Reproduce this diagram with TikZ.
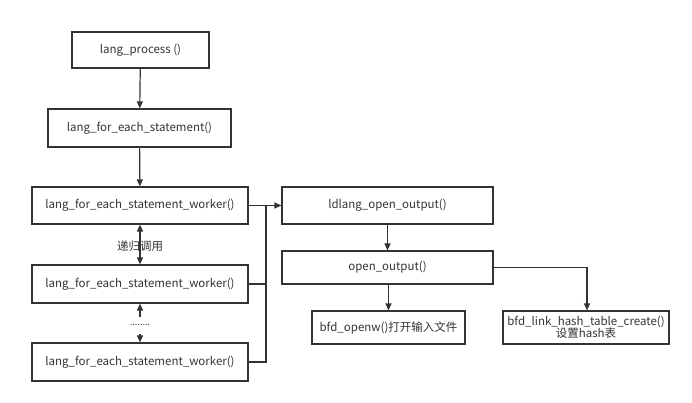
\documentclass[tikz,border=0pt]{standalone}
\usepackage{fontspec}
\setmainfont{Noto Sans CJK SC}
\usetikzlibrary{arrows.meta}
\definecolor{ln}{HTML}{333333}
\definecolor{tx}{HTML}{333333}
\tikzset{
  box/.style={draw=ln, line width=1.2pt, inner sep=0pt, align=center, text=tx, font=\fontsize{11.5}{13}\selectfont},
  conn/.style={draw=ln, line width=1.2pt},
  arr/.style={conn, -{Triangle[length=7pt,width=6pt]}},
}
\begin{document}
\begin{tikzpicture}[x=1pt,y=-1pt]
\useasboundingbox (0,0) rectangle (692,402);
\node[box, minimum width=137pt, minimum height=36pt] (p) at (140.5,50) {lang\_process ()};
\node[box, minimum width=183pt, minimum height=38pt] (s) at (139.5,128) {lang\_for\_each\_statement()};
\node[box, minimum width=216pt, minimum height=37pt] (w1) at (140,205.5) {lang\_for\_each\_statement\_worker()};
\node[box, minimum width=216pt, minimum height=38pt] (w2) at (140,284) {lang\_for\_each\_statement\_worker()};
\node[box, minimum width=216pt, minimum height=38pt] (w3) at (140,362) {lang\_for\_each\_statement\_worker()};
\node[box, minimum width=211pt, minimum height=37pt] (ld) at (387.5,205.5) {ldlang\_open\_output()};
\node[box, minimum width=211pt, minimum height=33pt] (oo) at (387.5,267.5) {open\_output()};
\node[box, minimum width=153pt, minimum height=33pt] (bo) at (388.5,327.5) {bfd\_openw()打开输入文件};
\node[box, minimum width=166pt, minimum height=33pt, font=\fontsize{11.5}{12}\selectfont] (hs) at (586,327.5) {bfd\_link\_hash\_table\_create()\\设置hash表};
\node[text=tx, font=\fontsize{11.5}{13}\selectfont, inner sep=0pt] (rl) at (140,246) {递归调用};
\node[text=tx, font=\fontsize{9}{10}\selectfont, inner sep=0pt] (dots) at (140,325) {........};
\coordinate (d1) at (140,317);
\coordinate (d2) at (140,334);
\coordinate (bt) at (266,205.5);
\coordinate (bb) at (266,362);
\coordinate (hc) at (587,267.5);

\draw[arr] (p) -- (s);
\draw[arr] (s) -- (w1);
\draw[conn, {Triangle[length=7pt,width=6pt]}-{Triangle[length=7pt,width=6pt]}] (w1) -- (w2);
\draw[arr] (d1) -- (w2);
\draw[arr] (d2) -- (w3);
\draw[conn] (w1.east) -- (bt) -- (bb) -- (w3.east);
\draw[conn] (w2.east) -- (w2.east -| bt);
\draw[arr] (bt) -- (ld.west);
\draw[arr] (ld.south) -- (oo.north);
\draw[arr] (oo.south -| bo.north) -- (bo.north);
\draw[arr] (oo.east) -- (hc) -- (hc |- hs.north);
\end{tikzpicture}
\end{document}
